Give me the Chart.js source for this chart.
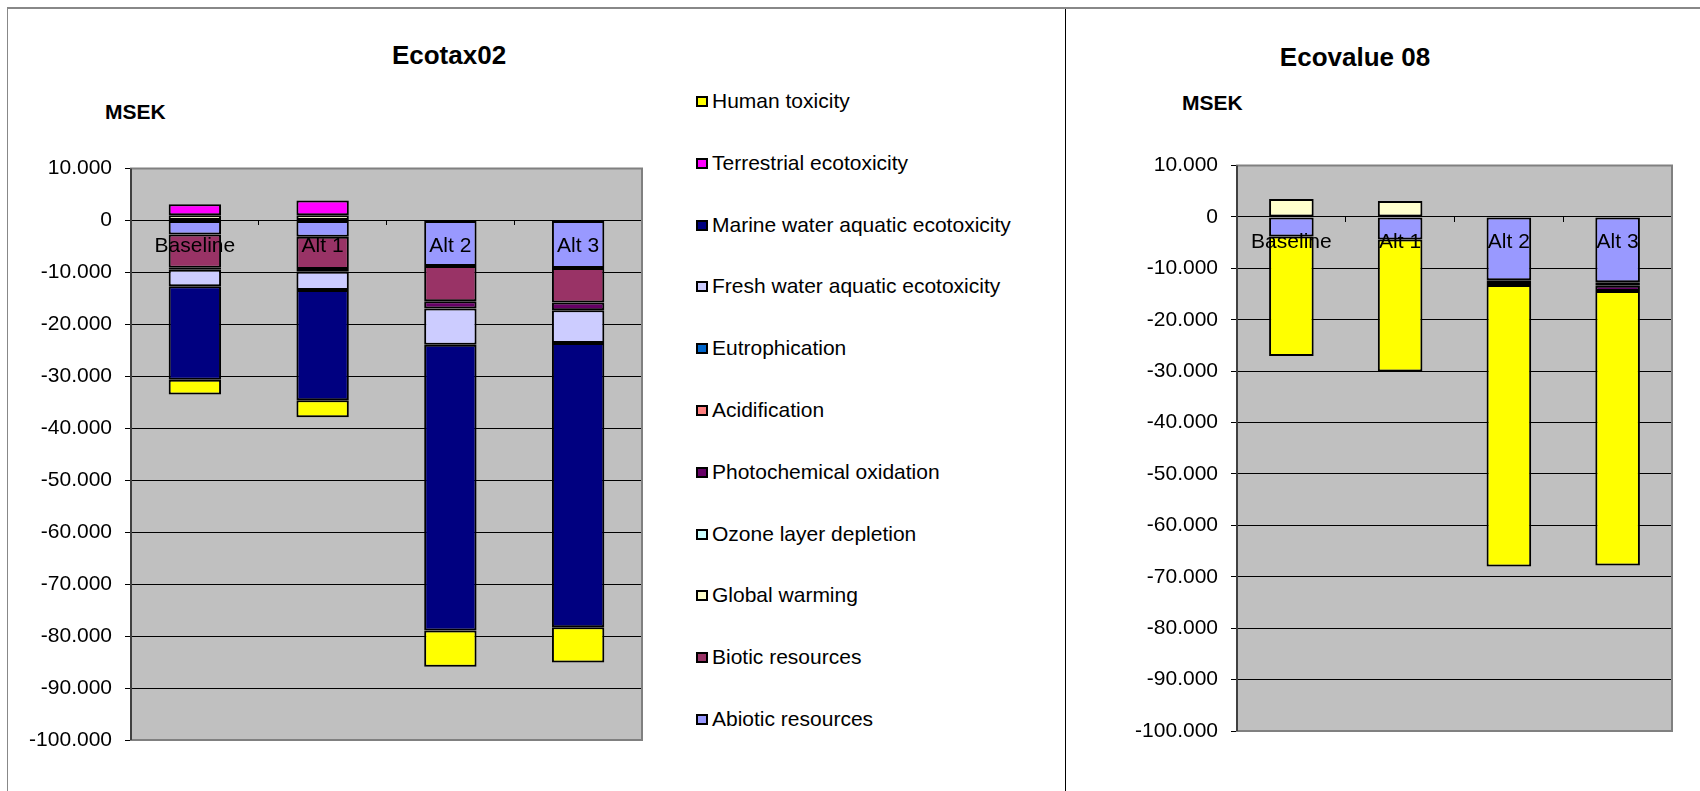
<!DOCTYPE html>
<html>
<head>
<meta charset="utf-8">
<title>Ecotax02 / Ecovalue 08</title>
<script src="https://cdn.jsdelivr.net/npm/chart.js@4.4.1/dist/chart.umd.min.js"></script>
<style>
  body { margin: 0; background: #fff; font-family: "Liberation Sans", Arial, sans-serif; }
  #page { position: relative; width: 1700px; height: 791px; overflow: hidden; }
  .frame { position: absolute; top: 7px; height: 800px; border-top: 2px solid #888; }
  .txt { position: absolute; white-space: nowrap; color: #000; }
  .title { font-size: 26px; font-weight: bold; line-height: 30px; transform: translateX(-50%); }
  .unit { font-size: 21px; font-weight: bold; line-height: 24px; }
  .leg { position: absolute; left: 696px; height: 24px; font-size: 21px; line-height: 24px; white-space: nowrap; }
  .leg span.box { position: absolute; left: 0; top: 7px; width: 12px; height: 11px; box-sizing: border-box; border: 2px solid #000; }
  .leg span.lbl { position: absolute; left: 16px; top: 0; }
  canvas { position: absolute; }
</style>
</head>
<body>
<div id="page">
  <div class="frame" style="left:7px; width:1057px; border-left:1px solid #888; border-right:1px solid #000;"></div>
  <div class="frame" style="left:1065px; width:700px;"></div>

  <div class="txt title" style="left:449px; top:40px;">Ecotax02</div>
  <div class="txt unit" style="left:105px; top:100px;">MSEK</div>
  <div class="txt title" style="left:1355px; top:42px;">Ecovalue 08</div>
  <div class="txt unit" style="left:1182px; top:91px;">MSEK</div>

  <div id="legend"></div>

  <canvas id="chartEcotax" width="1058" height="780" style="left:8px; top:11px;"></canvas>
  <canvas id="chartEcovalue" width="634" height="780" style="left:1066px; top:11px;"></canvas>
</div>

<script>
// categories
var labels = ["Baseline", "Alt 1", "Alt 2", "Alt 3"];

// series, in stacking order (first one sits next to zero)
var seriesNames = [
  "Abiotic resources",
  "Biotic resources",
  "Global warming",
  "Ozone layer depletion",
  "Photochemical oxidation",
  "Acidification",
  "Eutrophication",
  "Fresh water aquatic ecotoxicity",
  "Marine water aquatic ecotoxicity",
  "Terrestrial ecotoxicity",
  "Human toxicity"
];
var seriesColors = [
  "#9999FF", "#993366", "#FFFFCC", "#CCFFFF", "#660066", "#FF8080",
  "#0066CC", "#CCCCFF", "#000080", "#FF00FF", "#FFFF00"
];

// Ecotax02 (MSEK, thousands shown with '.')
var ecotax_abiotic = [-2700, -3150, -8750, -9150];
var ecotax_biotic  = [-6400, -6200, -6800, -6650];
var ecotax_global  = [1000, 1000, null, null];
var ecotax_ozone   = [null, null, null, null];
var ecotax_photo   = [-400, -500, -1400, -1500];
var ecotax_acid    = [null, null, null, null];
var ecotax_eutro   = [null, null, null, null];
var ecotax_fresh   = [-3150, -3550, -6950, -6270];
var ecotax_marine  = [-18000, -21200, -55000, -54730];
var ecotax_terr    = [2100, 2850, null, null];
var ecotax_human   = [-2850, -3300, -7000, -6800];

// Ecovalue 08
var ecovalue_abiotic = [-3800, -4400, -12300, -12700];
var ecovalue_biotic  = [null, null, null, null];
var ecovalue_global  = [3500, 3100, -150, -700];
var ecovalue_ozone   = [null, null, null, null];
var ecovalue_photo   = [null, null, -800, -1000];
var ecovalue_acid    = [null, null, null, null];
var ecovalue_eutro   = [null, null, null, null];
var ecovalue_fresh   = [null, null, null, null];
var ecovalue_marine  = [null, null, null, null];
var ecovalue_terr    = [null, null, null, null];
var ecovalue_human   = [-23270, -25670, -54750, -53400];

// y axis
var yMin = -100000, yMax = 10000, yStep = 10000;

function makeDatasets(values) {
  var sets = [];
  for (var i = 0; i < values.length; i++) {
    sets.push({
      label: seriesNames[i],
      data: values[i],
      backgroundColor: seriesColors[i],
      borderColor: "#000",
      borderWidth: 2,
      borderSkipped: false,
      categoryPercentage: 1,
      barPercentage: 0.41
    });
  }
  return sets;
}

var plotFrame = {
  id: "plotFrame",
  beforeDraw: function (chart) {
    var a = chart.chartArea, ctx = chart.ctx;
    ctx.save();
    ctx.fillStyle = "#C0C0C0";
    ctx.fillRect(a.left, a.top, a.right - a.left, a.bottom - a.top);
    ctx.restore();
  },
  afterDraw: function (chart) {
    var a = chart.chartArea, ctx = chart.ctx;
    ctx.save();
    ctx.strokeStyle = "#808080";
    ctx.lineWidth = 2;
    ctx.strokeRect(a.left, a.top, a.right - a.left, a.bottom - a.top);
    ctx.beginPath();
    ctx.strokeStyle = "#404040";
    ctx.moveTo(a.left, a.top);
    ctx.lineTo(a.left, a.bottom);
    ctx.stroke();
    ctx.restore();
  }
};

function makeOptions(axisWidth, pad) {
  return {
    responsive: false,
    animation: false,
    devicePixelRatio: 1,
    layout: { padding: pad },
    plugins: { legend: { display: false }, title: { display: false }, tooltip: { enabled: false } },
    scales: {
      x: {
        stacked: true,
        position: { y: 0 },
        offset: true,
        border: { display: false },
        grid: { display: true, offset: true, drawOnChartArea: false, drawTicks: true, tickLength: 5, color: "#000" },
        ticks: { z: 1, color: "#000", font: { size: 21 }, padding: 8, autoSkip: false, maxRotation: 0 }
      },
      y: {
        stacked: true,
        min: yMin,
        max: yMax,
        afterFit: function (scale) { scale.width = axisWidth; },
        border: { display: false },
        grid: { color: "#000", lineWidth: 1, tickLength: 6, drawTicks: true },
        ticks: {
          stepSize: yStep,
          color: "#000",
          font: { size: 21 },
          padding: 13,
          callback: function (v) { return v === 0 ? "0" : v.toLocaleString("de-DE"); }
        }
      }
    }
  };
}

window.onload = function () {
  Chart.defaults.font.family = "'Liberation Sans', Arial, sans-serif";

  // legend (reverse order like the original)
  var leg = document.getElementById("legend");
  for (var i = seriesNames.length - 1; i >= 0; i--) {
    var row = seriesNames.length - 1 - i;
    var d = document.createElement("div");
    d.className = "leg";
    d.style.top = (101 + row * 61.8 - 12) + "px";
    d.innerHTML = '<span class="box" style="background:' + seriesColors[i] + '"></span><span class="lbl">' + seriesNames[i] + '</span>';
    leg.appendChild(d);
  }

  var ctx = document.getElementById("chartEcotax").getContext("2d");
  var chartEcotax = new Chart(ctx, {
    type: "bar",
    data: {
      labels: labels,
      datasets: makeDatasets([ecotax_abiotic, ecotax_biotic, ecotax_global, ecotax_ozone, ecotax_photo,
        ecotax_acid, ecotax_eutro, ecotax_fresh, ecotax_marine, ecotax_terr, ecotax_human])
    },
    options: makeOptions(123, { top: 157.5, bottom: 51, left: 0, right: 424 }),
    plugins: [plotFrame]
  });

  var ctx2 = document.getElementById("chartEcovalue").getContext("2d");
  var chartEcovalue = new Chart(ctx2, {
    type: "bar",
    data: {
      labels: labels,
      datasets: makeDatasets([ecovalue_abiotic, ecovalue_biotic, ecovalue_global, ecovalue_ozone, ecovalue_photo,
        ecovalue_acid, ecovalue_eutro, ecovalue_fresh, ecovalue_marine, ecovalue_terr, ecovalue_human])
    },
    options: makeOptions(171, { top: 154.5, bottom: 60, left: 0, right: 28 }),
    plugins: [plotFrame]
  });
};
</script>
</body>
</html>
